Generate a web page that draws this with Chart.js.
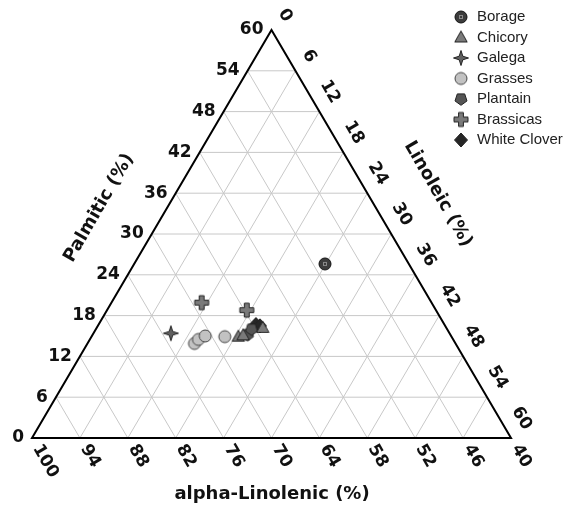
<!DOCTYPE html>
<html>
<head>
<meta charset="utf-8">
<script src="https://cdn.jsdelivr.net/npm/chart.js@4"></script>
<style>
  body { margin: 0; background: #fff; }
</style>
</head>
<body>
<canvas id="ternary" width="566" height="517"></canvas>
<script>
  // values per sample: [alpha-Linolenic, Palmitic, Linoleic] (%)
  const borage = [[50.5, 25.6, 23.9]];
  const chicory = [[66.7, 14.9, 18.4], [66.0, 15.1, 18.9], [63.0, 16.2, 20.8]];
  const galega = [[74.9, 15.4, 9.7]];
  const grasses = [[72.7, 13.9, 13.4], [71.9, 14.5, 13.6], [70.8, 15.0, 14.2], [68.4, 14.9, 16.7]];
  const plantain = [[65.4, 15.2, 19.4], [64.5, 16.0, 19.5]];
  const brassicas = [[68.8, 19.9, 11.3], [63.7, 18.8, 17.5]];
  const whiteClover = [[63.6, 16.7, 19.7], [63.2, 16.5, 20.3]];

  const seriesNames = ['Borage', 'Chicory', 'Galega', 'Grasses', 'Plantain', 'Brassicas', 'White Clover'];
  const seriesData = [borage, chicory, galega, grasses, plantain, brassicas, whiteClover];

  const palmiticTicks = [0, 6, 12, 18, 24, 30, 36, 42, 48, 54, 60];
  const linoleicTicks = [0, 6, 12, 18, 24, 30, 36, 42, 48, 54, 60];
  const alphaTicks = [100, 94, 88, 82, 76, 70, 64, 58, 52, 46, 40];

  // ternary -> plot coords (each side spans 60 units)
  function toXY(p, l) {
    return { x: l + p / 2, y: p };
  }

  //----marker shapes
  function marker(draw) {
    const c = document.createElement('canvas');
    c.width = 18; c.height = 18;
    const g = c.getContext('2d');
    g.translate(9, 9);
    g.lineWidth = 1;
    g.strokeStyle = '#222';
    draw(g);
    return c;
  }
  function poly(g, pts, fill) {
    g.beginPath();
    pts.forEach((q, i) => i ? g.lineTo(q[0], q[1]) : g.moveTo(q[0], q[1]));
    g.closePath();
    g.fillStyle = fill;
    g.fill();
    g.stroke();
  }

  const markers = [
    marker(g => { // borage
      g.beginPath(); g.arc(0, 0, 6, 0, Math.PI * 2);
      g.fillStyle = '#3c3c3c'; g.fill(); g.strokeStyle = '#111'; g.stroke();
      g.strokeStyle = '#8a8a8a'; g.strokeRect(-1.5, -1.5, 3, 3);
    }),
    marker(g => poly(g, [[0, -6.5], [6.2, 4.5], [-6.2, 4.5]], '#7a7a7a')),
    marker(g => poly(g, [[0, -7.5], [1.8, -1.8], [7.5, 0], [1.8, 1.8], [0, 7.5], [-1.8, 1.8], [-7.5, 0], [-1.8, -1.8]], '#606060')),
    marker(g => {
      g.beginPath(); g.arc(0, 0, 6, 0, Math.PI * 2);
      g.fillStyle = '#c2c2c2'; g.fill(); g.strokeStyle = '#444'; g.stroke();
    }),
    marker(g => {
      const pts = [];
      for (let i = 0; i < 5; i++) {
        const a = Math.PI / 2 + i * 2 * Math.PI / 5;
        pts.push([6.3 * Math.cos(a), 6.3 * Math.sin(a)]);
      }
      poly(g, pts, '#555');
    }),
    marker(g => poly(g, [[-2.4, -7], [2.4, -7], [2.4, -2.4], [7, -2.4], [7, 2.4], [2.4, 2.4], [2.4, 7],
      [-2.4, 7], [-2.4, 2.4], [-7, 2.4], [-7, -2.4], [-2.4, -2.4]], '#7a7a7a')),
    marker(g => poly(g, [[0, -7], [6.5, 0], [0, 7], [-6.5, 0]], '#262626'))
  ];

  const datasets = seriesNames.map((name, i) => ({
    label: name,
    data: seriesData[i].map(v => toXY(v[1], v[2])),
    pointStyle: markers[i]
  }));

  //----grid, axes and labels
  const ternaryPlugin = {
    id: 'ternary',
    beforeDatasetsDraw(chart) {
      const ctx = chart.ctx;
      const sx = chart.scales.x, sy = chart.scales.y;
      const px = (p, l) => {
        const q = toXY(p, l);
        return [sx.getPixelForValue(q.x), sy.getPixelForValue(q.y)];
      };
      const seg = (a, b) => {
        ctx.beginPath(); ctx.moveTo(a[0], a[1]); ctx.lineTo(b[0], b[1]); ctx.stroke();
      };
      ctx.save();
      ctx.strokeStyle = '#c8c8c8';
      ctx.lineWidth = 1;
      for (let k = 6; k < 60; k += 6) {
        seg(px(k, 0), px(k, 60 - k));       // palmitic constant
        seg(px(0, k), px(60 - k, k));       // linoleic constant
        seg(px(0, k), px(k, 0));            // alpha constant
      }
      ctx.strokeStyle = '#000';
      ctx.lineWidth = 2;
      ctx.lineJoin = 'miter';
      ctx.beginPath();
      const a = px(0, 0), b = px(0, 60), c = px(60, 0);
      ctx.moveTo(a[0], a[1]); ctx.lineTo(b[0], b[1]); ctx.lineTo(c[0], c[1]); ctx.closePath();
      ctx.stroke();
      ctx.restore();
    },
    afterDraw(chart) {
      const ctx = chart.ctx;
      const sx = chart.scales.x, sy = chart.scales.y;
      const px = (p, l) => {
        const q = toXY(p, l);
        return [sx.getPixelForValue(q.x), sy.getPixelForValue(q.y)];
      };
      const rot = Math.PI / 3;
      ctx.save();
      ctx.fillStyle = '#111';
      ctx.font = 'bold 17px "DejaVu Sans"';
      ctx.textBaseline = 'middle';

      // left: palmitic
      ctx.textAlign = 'right';
      palmiticTicks.forEach(p => {
        const q = px(p, 0);
        ctx.fillText(String(p), q[0] - 8, q[1]);
      });
      // right: linoleic
      linoleicTicks.forEach(l => {
        const q = px(60 - l, l);
        ctx.save();
        ctx.translate(q[0], q[1]);
        ctx.rotate(rot);
        ctx.textAlign = 'right';
        ctx.fillText(String(l), 0, -19);
        ctx.restore();
      });
      // bottom: alpha-linolenic
      alphaTicks.forEach(v => {
        const q = px(0, 100 - v);
        ctx.save();
        ctx.translate(q[0], q[1]);
        ctx.rotate(rot);
        ctx.textAlign = 'left';
        ctx.fillText(String(v), 9, 0);
        ctx.restore();
      });

      // axis titles
      ctx.font = 'bold 18px "DejaVu Sans"';
      ctx.textAlign = 'center';
      ctx.fillText('alpha-Linolenic (%)', 272, 494);
      ctx.save();
      ctx.translate(99, 208);
      ctx.rotate(-rot);
      ctx.fillText('Palmitic (%)', 0, 0);
      ctx.restore();
      ctx.save();
      ctx.translate(438, 194);
      ctx.rotate(rot);
      ctx.fillText('Linoleic (%)', 0, 0);
      ctx.restore();

      // legend
      ctx.font = '15px "Liberation Sans", Arial';
      ctx.textAlign = 'left';
      ctx.fillStyle = '#222';
      seriesNames.forEach((name, i) => {
        const y = 17 + i * 20.5;
        const m = markers[i];
        ctx.drawImage(m, 461 - m.width / 2, y - m.height / 2);
        ctx.fillText(name, 477, y);
      });
      ctx.restore();
    }
  };

  const ternaryChart = new Chart(document.getElementById('ternary'), {
    type: 'scatter',
    data: { datasets: datasets },
    options: {
      responsive: false,
      animation: false,
      layout: { padding: { left: 32, right: 55, top: 30, bottom: 79 } },
      scales: {
        x: { type: 'linear', min: 0, max: 60, display: false },
        y: { type: 'linear', min: 0, max: 60, display: false }
      },
      plugins: {
        legend: { display: false },
        tooltip: { enabled: false }
      }
    },
    plugins: [ternaryPlugin]
  });
</script>
</body>
</html>
